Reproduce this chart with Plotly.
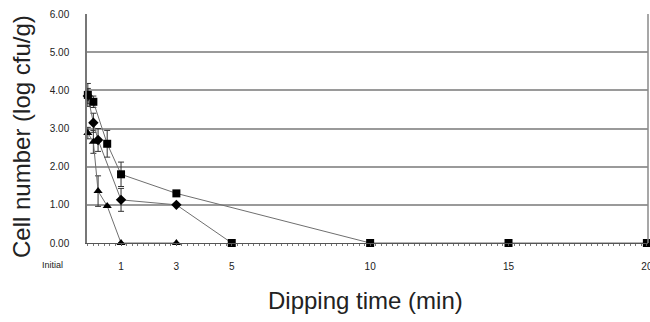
import plotly.graph_objects as go

# x tick labels (minutes); "Initial" sits left of the axis in the reference
tick_labels = ["Initial", "1", "3", "5", "10", "15", "20"]
tick_positions = [-1.5, 1, 3, 5, 10, 15, 20]

# Series A (squares)
t_a = [-0.2, 0.0, 0.5, 1, 3, 10, 15, 20]
y_a = [3.88, 3.70, 2.60, 1.80, 1.30, 0.00, 0.00, 0.00]
e_a = [0.30, 0.15, 0.35, 0.32, 0.00, 0.00, 0.00, 0.00]

# Series B (diamonds)
t_b = [-0.2, 0.0, 0.17, 1, 3, 5]
y_b = [3.85, 3.15, 2.70, 1.13, 1.00, 0.00]
e_b = [0.20, 0.25, 0.30, 0.30, 0.00, 0.00]

# Series C (triangles)
t_c = [-0.2, 0.0, 0.17, 0.5, 1, 3]
y_c = [2.88, 2.65, 1.36, 0.97, 0.00, 0.00]
e_c = [0.15, 0.30, 0.40, 0.00, 0.00, 0.00]

y_ticks = [0, 1, 2, 3, 4, 5, 6]

W, H = 650, 322
ML, MR, MT, MB = 87, 2, 14, 79
PW, PH = W - ML - MR, H - MT - MB


def px(xp):
    return (xp - ML) / PW


def py(yp):
    return (MT + PH - yp) / PH


fig = go.Figure()


def add(t, y, e, symbol, size):
    fig.add_trace(go.Scatter(
        x=t, y=y, mode="lines+markers",
        line=dict(color="#6f6f6f", width=1),
        marker=dict(symbol=symbol, size=size, color="black"),
        error_y=dict(type="data", array=e, visible=True, color="#333333",
                     thickness=1, width=3),
        cliponaxis=False, showlegend=False))


add(t_c, y_c, e_c, ["triangle-up"] * len(t_c), 8)
add(t_b, y_b, e_b, ["diamond"] * (len(t_b) - 1) + ["square"], 8)
add(t_a, y_a, e_a, ["square"] * len(t_a), 8)

fig.update_layout(
    width=W, height=H,
    margin=dict(l=ML, r=MR, t=MT, b=MB, autoexpand=False),
    paper_bgcolor="white", plot_bgcolor="white",
    font=dict(family="Liberation Sans, Arial", color="#333333"),
    xaxis=dict(
        range=[-0.23, 20.04], automargin=False,
        tickvals=tick_positions[1:], ticktext=tick_labels[1:],
        showgrid=False, zeroline=False,
        showline=True, linecolor="#555555", linewidth=1, mirror=False,
        ticks="outside", ticklen=2, tickcolor="#555555",
        ticklabelstandoff=12, ticklabeloverflow="allow",
        tickfont=dict(size=10, color="#222222"),
        minor=dict(dtick=0.2, ticks="outside", ticklen=2, tickcolor="#777777", showgrid=False),
    ),
    yaxis=dict(
        range=[0, 6], automargin=False,
        tickvals=y_ticks, tickformat=".2f",
        showgrid=True, gridcolor="#9a9a9a", gridwidth=1.5,
        zeroline=False, showline=True, linecolor="#777777", linewidth=1.5,
        ticks="", ticklabelstandoff=14,
        tickfont=dict(size=10, color="#222222"),
    ),
    shapes=[dict(type="line", xref="paper", yref="paper", x0=1, x1=1, y0=0, y1=1,
                 line=dict(color="#8a8a8a", width=1.5))],
    annotations=[
        dict(text=tick_labels[0], x=px(52), xref="paper", y=py(265), yref="paper",
             showarrow=False, font=dict(size=9, color="#222222"),
             xanchor="center", yanchor="middle"),
        dict(text="Cell number (log cfu/g)", x=px(21), xref="paper", xanchor="center",
             y=py(137), yref="paper", yanchor="middle", textangle=-90, showarrow=False,
             font=dict(size=24, color="#222222")),
        dict(text="Dipping time (min)", x=px(365), xref="paper", y=py(300), yref="paper",
             xanchor="center", yanchor="middle", showarrow=False,
             font=dict(size=24, color="#222222")),
    ],
)

fig.write_html("out.html", config={"displayModeBar": False},
               post_script="document.body.style.margin='0';document.body.style.overflow='hidden';")
